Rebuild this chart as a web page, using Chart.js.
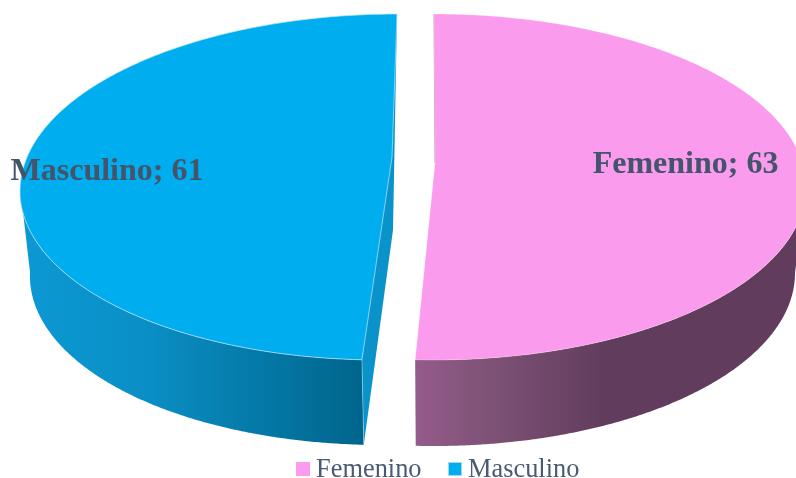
<!DOCTYPE html>
<html><head><meta charset="utf-8">
<style>html,body{margin:0;padding:0;background:#fff}canvas{display:block}</style>
<script src="https://cdn.jsdelivr.net/npm/chart.js@4"></script>
</head><body><canvas id="c" width="796" height="478"></canvas>
<script>
const categories = ['Femenino', 'Masculino'];
const values = [63, 61];
const sliceColors = ['#fa9bed', '#00adef'];

const FONT = '"Liberation Serif","Times New Roman",serif';
const INK = '#44546a';
// drawing geometry of each tilted slice (top face, bottom face, inner corner)
const GEO = [
  { top:{cx:434,cy:187,rx:372,ry:173,s:0}, low:{cx:434,cy:273,rx:361,ry:173,s:0}, apex:[435,163],
    wall:[90,183], grad:[415,796,[[0,'#955b8b'],[0.2,'#7d5276'],[0.5,'#613c5d'],[1,'#613c5d']]],
    label:[685.5,165], edge:'rgba(255,255,255,0.25)' },
  { top:{cx:388.8,cy:187,rx:368.7,ry:173,s:-8.2}, low:{cx:390,cy:272,rx:360,ry:173,s:-8}, apex:[392,157],
    wall:[183,270], grad:[30,362,[[0,'#0b98d3'],[0.35,'#0a8fc5'],[1,'#00658c']]],
    label:[107,172], edge:'rgba(190,230,250,0.7)' }
];
function pt(e,t){return [e.cx+e.rx*Math.sin(t)-e.s*Math.cos(t), e.cy-e.ry*Math.cos(t)];}
function trace(ctx,e,a,b,first){
  const n=240;
  for(let i=0;i<=n;i++){
    const p=pt(e,a+(b-a)*i/n);
    if(i===0&&first)ctx.moveTo(p[0],p[1]);else ctx.lineTo(p[0],p[1]);
  }
}
const rad=d=>d*Math.PI/180;
const pie3d={
  id:'pie3d',
  beforeDatasetsDraw(chart){
    const ctx=chart.ctx, arcs=chart.getDatasetMeta(0).data;
    arcs.forEach((el,i)=>{
      const g=GEO[i];
      const a=el.startAngle+Math.PI/2, b=el.endAngle+Math.PI/2;
      // outer wall
      const lo=i===1?a:rad(g.wall[0]), hi=i===1?rad(g.wall[1]):b;
      const gr=ctx.createLinearGradient(g.grad[0],0,g.grad[1],0);
      g.grad[2].forEach(s=>gr.addColorStop(s[0],s[1]));
      ctx.beginPath();trace(ctx,g.top,lo,hi,true);trace(ctx,g.low,hi,lo,false);ctx.closePath();
      ctx.fillStyle=gr;ctx.fill();
      // inner cut face of the separated Masculino slice
      if(i===1){
        const s=pt(g.top,a), ls=pt(g.low,a), e=pt(g.top,b);
        ctx.beginPath();ctx.moveTo(e[0],e[1]);ctx.lineTo(393,230);ctx.lineTo(ls[0],ls[1]);ctx.lineTo(s[0],s[1]);ctx.closePath();
        ctx.fillStyle='#0a93cb';ctx.fill();
        ctx.beginPath();ctx.moveTo(s[0],s[1]);ctx.lineTo(ls[0],ls[1]);ctx.strokeStyle='rgba(190,230,250,0.45)';ctx.lineWidth=1;ctx.stroke();
      } else {
        const s=pt(g.top,a);
        ctx.beginPath();ctx.moveTo(s[0],s[1]);ctx.lineTo(g.apex[0],g.apex[1]);ctx.strokeStyle='#b58bab';ctx.lineWidth=1;ctx.stroke();
      }
      // top face drawn by the element itself, through Chart.js's draw loop
      el.draw=function(c){
        c.save();
        c.beginPath();trace(c,g.top,this.startAngle+Math.PI/2,this.endAngle+Math.PI/2,true);
        c.lineTo(g.apex[0],g.apex[1]);c.closePath();
        c.fillStyle=this.options.backgroundColor;c.fill();
        c.strokeStyle=g.edge;c.lineWidth=1;c.stroke();
        c.restore();
      };
    });
  },
  afterDraw(chart){
    const ctx=chart.ctx;
    ctx.save();
    ctx.fillStyle=INK;ctx.font='bold 32px '+FONT;ctx.textAlign='center';
    categories.forEach((n,i)=>{
      ctx.textBaseline='middle';
      ctx.fillText(n+'; '+values[i],GEO[i].label[0],GEO[i].label[1]);
    });
    // legend
    ctx.textBaseline='alphabetic';ctx.textAlign='left';ctx.font='26.4px '+FONT;
    const boxX=[296,448], textX=[316,468];
    categories.forEach((n,i)=>{
      ctx.fillStyle=sliceColors[i];ctx.fillRect(boxX[i],462,14,14);
      if(i===1){ctx.strokeStyle='#9fd8f2';ctx.lineWidth=1;ctx.strokeRect(boxX[i]+.5,462.5,13,13);}
      ctx.fillStyle='#4a5a73';ctx.fillText(n,textX[i],477);
    });
    ctx.restore();
  }
};
new Chart(document.getElementById('c'),{
  type:'pie',
  data:{labels:categories,datasets:[{data:values,backgroundColor:sliceColors,borderWidth:0}]},
  options:{responsive:false,animation:false,rotation:0,
    layout:{padding:0},
    plugins:{legend:{display:false},tooltip:{enabled:false}}},
  plugins:[pie3d]
});
</script></body></html>
